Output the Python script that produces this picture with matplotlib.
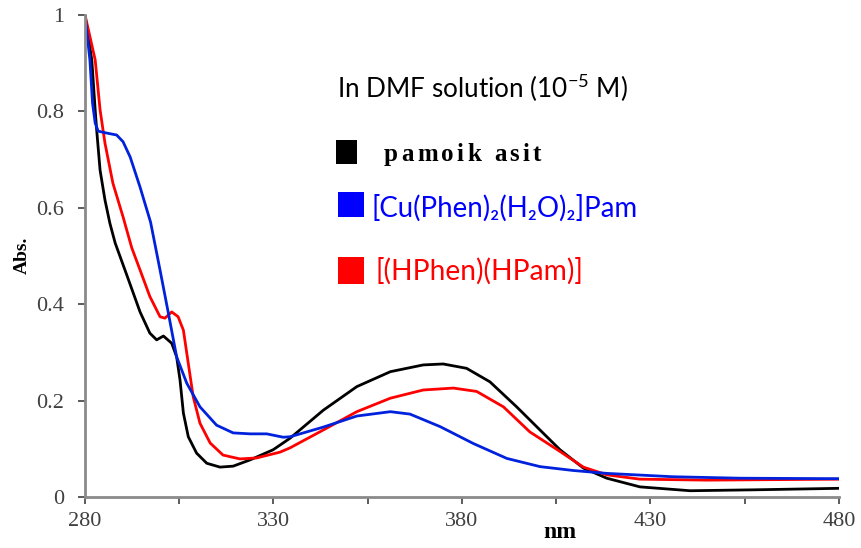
import matplotlib
matplotlib.use("Agg")
import matplotlib.pyplot as plt
from matplotlib.patches import Rectangle

# UV-Vis absorption spectra in DMF (wavelength in nm, absorbance)
nm_pam = [280, 281.8, 282.7, 283.1, 284.0, 285.3, 286.6, 288.0, 291.2, 294.6, 297.2,
          299.0, 300.8, 303.0, 304.3, 305.2, 306.1, 307.4, 309.6, 312.3, 315.8, 319.3,
          323.8, 329.9, 334.4, 343.2, 352.1, 361.0, 369.7, 375.0, 381.2, 387.4, 394.5,
          401.6, 406.0, 412.2, 418.4, 427.2, 440.5, 458.2, 480]
abs_pam = [1.0, 0.907, 0.803, 0.761, 0.678, 0.616, 0.568, 0.527, 0.458, 0.384, 0.340,
           0.326, 0.334, 0.319, 0.291, 0.243, 0.174, 0.125, 0.091, 0.070, 0.062, 0.064,
           0.077, 0.098, 0.122, 0.180, 0.229, 0.260, 0.274, 0.276, 0.267, 0.239, 0.187,
           0.132, 0.098, 0.060, 0.039, 0.021, 0.013, 0.015, 0.018]

nm_cu = [280, 281.3, 282.0, 282.7, 283.5, 285.8, 288.4, 290.1, 292.0, 294.6, 297.4,
         299.9, 302.1, 304.3, 307.0, 310.5, 314.9, 319.3, 323.8, 328.2, 332.6, 334.4,
         343.2, 352.1, 361.0, 366.2, 374.2, 383.0, 391.9, 400.7, 409.5, 418.4, 436.0,
         453.7, 480]
abs_cu = [1.0, 0.907, 0.817, 0.776, 0.759, 0.755, 0.751, 0.737, 0.705, 0.643, 0.570,
          0.471, 0.382, 0.291, 0.236, 0.187, 0.149, 0.133, 0.131, 0.131, 0.124, 0.125,
          0.145, 0.168, 0.177, 0.172, 0.146, 0.111, 0.080, 0.063, 0.055, 0.049, 0.042,
          0.039, 0.038]

nm_hphen = [280, 282.7, 284.0, 285.3, 287.4, 290.1, 292.4, 294.6, 297.2, 299.9, 301.2,
            303.0, 304.7, 306.1, 307.4, 308.7, 310.5, 313.2, 316.6, 321.1, 325.5, 331.7,
            334.4, 343.2, 352.1, 361.0, 369.7, 377.7, 383.9, 391.0, 398.0, 405.5, 412.2,
            418.4, 427.2, 444.9, 480]
abs_hphen = [1.0, 0.907, 0.803, 0.734, 0.651, 0.581, 0.517, 0.471, 0.416, 0.374, 0.371,
             0.384, 0.374, 0.346, 0.277, 0.208, 0.153, 0.112, 0.087, 0.079, 0.081, 0.093,
             0.102, 0.139, 0.177, 0.205, 0.222, 0.226, 0.219, 0.187, 0.135, 0.097, 0.062,
             0.046, 0.037, 0.035, 0.037]

x_ticks = [280, 330, 380, 430, 480]
x_minor = [305, 355, 405, 455]
y_ticks = [0, 0.2, 0.4, 0.6, 0.8, 1]
y_labels = ["0", "0.2", "0.4", "0.6", "0.8", "1"]

W, H = 861, 548

plt.rcParams["mathtext.fontset"] = "custom"
plt.rcParams["mathtext.rm"] = "Lato"
plt.rcParams["mathtext.it"] = "Lato"

fig = plt.figure(figsize=(W / 100, H / 100), dpi=100)
ax = fig.add_axes([85 / W, 1 - 497 / H, (839 - 85) / W, (497 - 15) / H])

lw = 2.0
ax.plot(nm_pam, abs_pam, color="black", lw=lw, solid_joinstyle="round")
ax.plot(nm_hphen, abs_hphen, color="#ff0000", lw=lw, solid_joinstyle="round")
ax.plot(nm_cu, abs_cu, color="#0022dd", lw=lw, solid_joinstyle="round")

ax.set_xlim(280, 480)
ax.set_ylim(0, 1)
ax.set_xticks(x_ticks)
ax.set_xticks(x_minor, minor=True)
ax.set_yticks(y_ticks)
ax.set_yticklabels(y_labels)

for s in ("top", "right"):
    ax.spines[s].set_visible(False)
for s in ("left", "bottom"):
    ax.spines[s].set_color("#8a8a8a")
    ax.spines[s].set_linewidth(2)

ax.tick_params(axis="both", which="both", direction="out", color="#404040",
               width=1.2, length=5, labelsize=16, labelcolor="#404040",
               labelfontfamily="Liberation Serif")
ax.tick_params(axis="x", which="major", pad=6)
ax.tick_params(axis="y", which="major", pad=10)

fig.text(22 / W, 1 - 255 / H, "Abs.", rotation=90, ha="center", va="center",
         fontfamily="Liberation Serif", fontweight="bold", fontsize=14)
fig.text(560 / W, 1 - 532 / H, "nm", ha="center", va="center",
         fontfamily="Liberation Serif", fontweight="bold", fontsize=17)

renderer = fig.canvas.get_renderer()


def fitted_text(x0, x1, yc, s, **kw):
    """Place left-aligned text so that it spans x0..x1 (pixels)."""
    t = fig.text(x0 / W, 1 - yc / H, s, ha="left", va="center", **kw)
    size = t.get_fontsize()
    for _ in range(3):
        width = t.get_window_extent(renderer).width
        size *= (x1 - x0) / width
        t.set_fontsize(size)
    return t


def tracked_text(x0, x1, yc, s, **kw):
    """Letter-spaced text: glyphs spread evenly between x0 and x1 (pixels)."""
    def width(chars):
        t = fig.text(0, 0, chars, **kw)
        w = t.get_window_extent(renderer).width
        t.remove()
        return w
    widths = []
    for ch in s:
        if ch == " ":
            widths.append(width("a a") - width("aa"))
        else:
            widths.append(width(ch))
    gap = (x1 - x0 - sum(widths)) / (len(s) - 1)
    x = x0
    for ch, w in zip(s, widths):
        if ch != " ":
            fig.text(x / W, 1 - yc / H, ch, ha="left", va="baseline", **kw)
        x += w + gap


def swatch(x0, y0, x1, y1, color):
    fig.patches.append(Rectangle((x0 / W, 1 - y1 / H), (x1 - x0) / W, (y1 - y0) / H,
                                 transform=fig.transFigure, facecolor=color,
                                 edgecolor="none"))


# Legend block
fitted_text(337, 628, 88, r"In DMF solution (10$^{-5}$ M)",
            fontfamily="Lato", fontsize=18, color="black")

swatch(336, 140, 357, 164, "black")
swatch(338, 192, 364, 217, "#0000ff")
swatch(338, 257, 364, 284, "#ff0000")

tracked_text(384, 541, 161, "pamoik asit", fontfamily="Liberation Serif",
             fontweight="bold", fontsize=18, color="black")
fitted_text(372, 638, 208, "[Cu(Phen)₂(H₂O)₂]Pam",
            fontfamily=["Lato", "DejaVu Sans"], fontsize=18, color="#0000ff")
fitted_text(375, 583, 271, "[(HPhen)(HPam)]",
            fontfamily="Lato", fontsize=18, color="#ff0000")

fig.savefig("out.png", dpi=100)
